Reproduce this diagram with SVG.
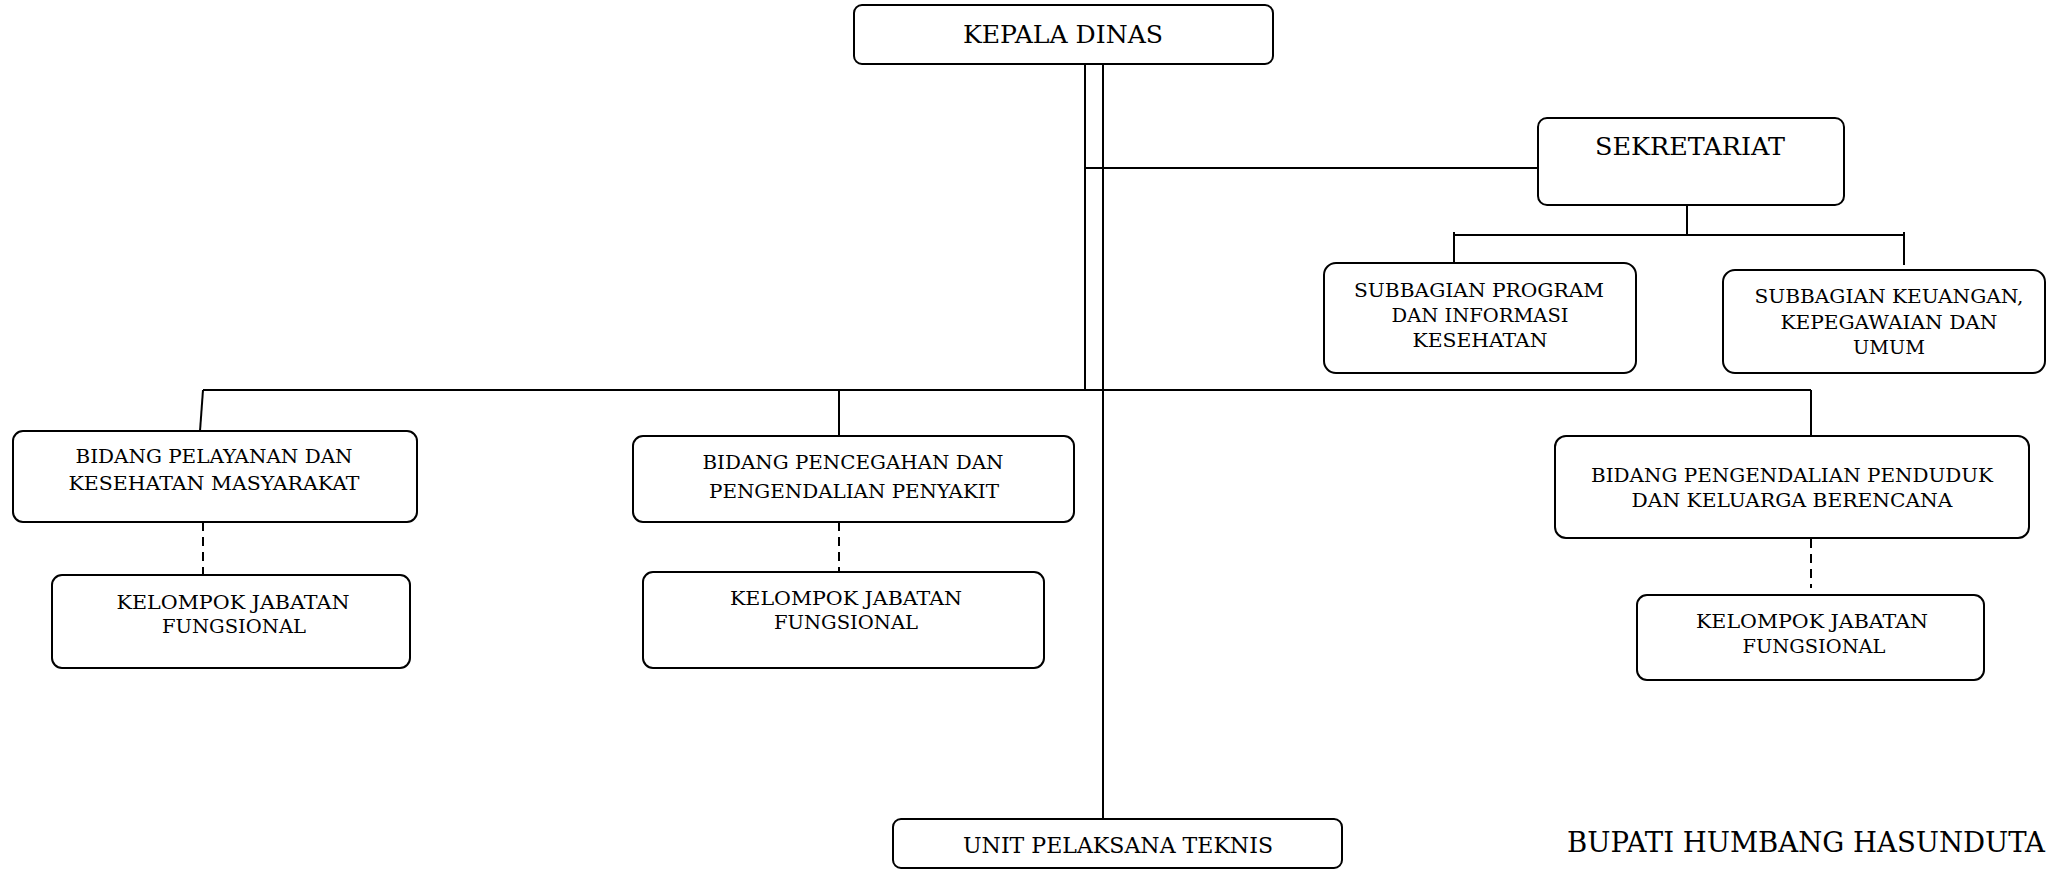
<svg xmlns="http://www.w3.org/2000/svg" width="2047" height="870" viewBox="0 0 2047 870">
<style>
.box{fill:#fff;stroke:#000;stroke-width:2}
.ln{fill:none;stroke:#000;stroke-width:2}
.dash{fill:none;stroke:#000;stroke-width:2;stroke-dasharray:9,6}
text{font-family:"DejaVu Serif","Liberation Serif",serif;fill:#000;text-anchor:middle}
.t24{font-size:24px}
.t19{font-size:19px}
.t18{font-size:18px}
.t22{font-size:22px}
.t27{font-size:27px}
</style>
<rect width="2047" height="870" fill="#fff"/>
<g id="connectors">
<path class="ln" d="M1085,64 V390"/>
<path class="ln" d="M1103,64 V819"/>
<path class="ln" d="M1085,168 H1538"/>
<path class="ln" d="M1687,205 V235"/>
<path class="ln" d="M1454,235 H1904"/>
<path class="ln" d="M1454,232 V263"/>
<path class="ln" d="M1904,232 V265"/>
<path class="ln" d="M203,390 H1811"/>
<path class="ln" d="M203,390 L200,431"/>
<path class="ln" d="M839,390 V436"/>
<path class="ln" d="M1811,390 V436"/>
<path class="dash" d="M203,522 V575"/>
<path class="dash" d="M839,522 V572"/>
<path class="dash" d="M1811,539 V588"/>
</g>
<g id="kepala-dinas">
<rect class="box" x="854" y="5" width="419" height="59" rx="8"/>
<text class="t24" x="1063" y="43" textLength="200" lengthAdjust="spacingAndGlyphs">KEPALA DINAS</text>
</g>
<g id="sekretariat">
<rect class="box" x="1538" y="118" width="306" height="87" rx="9"/>
<text class="t24" x="1690" y="155" textLength="190" lengthAdjust="spacingAndGlyphs">SEKRETARIAT</text>
</g>
<g id="subbagian-program">
<rect class="box" x="1324" y="263" width="312" height="110" rx="12"/>
<text class="t19" x="1479" y="297" textLength="250" lengthAdjust="spacingAndGlyphs">SUBBAGIAN PROGRAM</text>
<text class="t19" x="1480" y="322" textLength="177" lengthAdjust="spacingAndGlyphs">DAN INFORMASI</text>
<text class="t19" x="1480" y="347" textLength="135" lengthAdjust="spacingAndGlyphs">KESEHATAN</text>
</g>
<g id="subbagian-keuangan">
<rect class="box" x="1723" y="270" width="322" height="103" rx="12"/>
<text class="t19" x="1889" y="303" textLength="269" lengthAdjust="spacingAndGlyphs">SUBBAGIAN KEUANGAN,</text>
<text class="t19" x="1889" y="329" textLength="217" lengthAdjust="spacingAndGlyphs">KEPEGAWAIAN DAN</text>
<text class="t19" x="1889" y="354" textLength="72" lengthAdjust="spacingAndGlyphs">UMUM</text>
</g>
<g id="bidang-pelayanan">
<rect class="box" x="13" y="431" width="404" height="91" rx="10"/>
<text class="t19" x="214" y="463" textLength="277" lengthAdjust="spacingAndGlyphs">BIDANG PELAYANAN DAN</text>
<text class="t19" x="214" y="490" textLength="291" lengthAdjust="spacingAndGlyphs">KESEHATAN MASYARAKAT</text>
</g>
<g id="kelompok-1">
<rect class="box" x="52" y="575" width="358" height="93" rx="10"/>
<text class="t19" x="233" y="609" textLength="233" lengthAdjust="spacingAndGlyphs">KELOMPOK JABATAN</text>
<text class="t19" x="234" y="633" textLength="144" lengthAdjust="spacingAndGlyphs">FUNGSIONAL</text>
</g>
<g id="bidang-pencegahan">
<rect class="box" x="633" y="436" width="441" height="86" rx="10"/>
<text class="t19" x="853" y="469" textLength="301" lengthAdjust="spacingAndGlyphs">BIDANG PENCEGAHAN DAN</text>
<text class="t19" x="854" y="498" textLength="290" lengthAdjust="spacingAndGlyphs">PENGENDALIAN PENYAKIT</text>
</g>
<g id="kelompok-2">
<rect class="box" x="643" y="572" width="401" height="96" rx="10"/>
<text class="t19" x="846" y="605" textLength="232" lengthAdjust="spacingAndGlyphs">KELOMPOK JABATAN</text>
<text class="t19" x="846" y="629" textLength="144" lengthAdjust="spacingAndGlyphs">FUNGSIONAL</text>
</g>
<g id="bidang-pengendalian">
<rect class="box" x="1555" y="436" width="474" height="102" rx="11"/>
<text class="t19" x="1792" y="482" textLength="402" lengthAdjust="spacingAndGlyphs">BIDANG PENGENDALIAN PENDUDUK</text>
<text class="t19" x="1792" y="507" textLength="321" lengthAdjust="spacingAndGlyphs">DAN KELUARGA BERENCANA</text>
</g>
<g id="kelompok-3">
<rect class="box" x="1637" y="595" width="347" height="85" rx="10"/>
<text class="t19" x="1812" y="628" textLength="232" lengthAdjust="spacingAndGlyphs">KELOMPOK JABATAN</text>
<text class="t19" x="1814" y="653" textLength="143" lengthAdjust="spacingAndGlyphs">FUNGSIONAL</text>
</g>
<g id="unit-pelaksana-teknis">
<rect class="box" x="893" y="819" width="449" height="49" rx="8"/>
<text class="t22" x="1118" y="853" textLength="310" lengthAdjust="spacingAndGlyphs">UNIT PELAKSANA TEKNIS</text>
</g>
<g id="bupati">
<text class="t27" x="1567" y="852" style="text-anchor:start" textLength="478" lengthAdjust="spacingAndGlyphs">BUPATI HUMBANG HASUNDUTA</text>
</g>
</svg>
